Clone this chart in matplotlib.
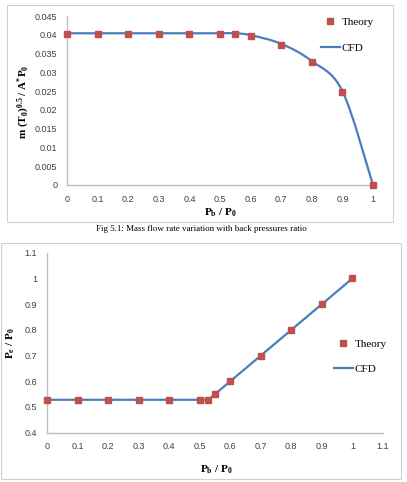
import matplotlib
matplotlib.use('Agg')
import matplotlib.pyplot as plt
import numpy as np
from matplotlib.path import Path
from matplotlib.patches import PathPatch, Rectangle
from matplotlib.lines import Line2D

plt.rcParams['mathtext.fontset'] = 'custom'
plt.rcParams['mathtext.rm'] = 'Liberation Serif:bold'
plt.rcParams['mathtext.it'] = 'Liberation Serif:bold'
plt.rcParams['mathtext.bf'] = 'Liberation Serif:bold'

# --- data, top chart (mass flow) ---
pb_theory1 = [0, 0.1, 0.2, 0.3, 0.4, 0.5, 0.55, 0.6, 0.7, 0.8, 0.9, 1.0]
mf_theory = [0.0402, 0.0402, 0.0402, 0.0402, 0.0402, 0.0402, 0.0401, 0.0397, 0.0373, 0.0328, 0.0247, 0.0]
pb_cfd1 = [0, 0.1, 0.2, 0.3, 0.4, 0.5, 0.55, 0.6, 0.7, 0.8, 0.9, 1.0]
mf_cfd = [0.0404, 0.0404, 0.0404, 0.0404, 0.0404, 0.0404, 0.0404, 0.0399, 0.0376, 0.0330, 0.0250, 0.0]

# --- data, bottom chart (exit pressure) ---
pb_theory2 = [0, 0.1, 0.2, 0.3, 0.4, 0.5, 0.528, 0.55, 0.6, 0.7, 0.8, 0.9, 1.0]
pe_theory = [0.528, 0.528, 0.528, 0.528, 0.528, 0.528, 0.528, 0.55, 0.6, 0.7, 0.8, 0.9, 1.0]
pb_cfd2 = [0, 0.1, 0.2, 0.3, 0.4, 0.5, 0.528, 0.55, 0.6, 0.7, 0.8, 0.9, 1.0]
pe_cfd = [0.528, 0.528, 0.528, 0.528, 0.528, 0.528, 0.528, 0.55, 0.6, 0.7, 0.8, 0.9, 1.0]

xt1 = [0, 0.1, 0.2, 0.3, 0.4, 0.5, 0.6, 0.7, 0.8, 0.9, 1]
xt1_lab = ['0', '0.1', '0.2', '0.3', '0.4', '0.5', '0.6', '0.7', '0.8', '0.9', '1']
yt1 = [0, 0.005, 0.01, 0.015, 0.02, 0.025, 0.03, 0.035, 0.04, 0.045]
yt1_lab = ['0', '0.005', '0.01', '0.015', '0.02', '0.025', '0.03', '0.035', '0.04', '0.045']
xt2 = [0, 0.1, 0.2, 0.3, 0.4, 0.5, 0.6, 0.7, 0.8, 0.9, 1, 1.1]
xt2_lab = ['0', '0.1', '0.2', '0.3', '0.4', '0.5', '0.6', '0.7', '0.8', '0.9', '1', '1.1']
yt2 = [0.4, 0.5, 0.6, 0.7, 0.8, 0.9, 1, 1.1]
yt2_lab = ['0.4', '0.5', '0.6', '0.7', '0.8', '0.9', '1', '1.1']

blue = '#4a7ebb'
red = '#c0504d'
grey = '#bfbfbf'
W, H = 407, 482


def smooth_path(x, y):
    # excel-like smoothed line: catmull-rom segments as cubic beziers
    x = np.asarray(x, float)
    y = np.asarray(y, float)
    verts = [(x[0], y[0])]
    codes = [Path.MOVETO]
    n = len(x)
    for i in range(n - 1):
        i0 = max(i - 1, 0)
        i3 = min(i + 2, n - 1)
        c1 = (x[i] + (x[i + 1] - x[i0]) / 6, y[i] + (y[i + 1] - y[i0]) / 6)
        c2 = (x[i + 1] - (x[i3] - x[i]) / 6, y[i + 1] - (y[i3] - y[i]) / 6)
        verts += [c1, c2, (x[i + 1], y[i + 1])]
        codes += [Path.CURVE4] * 3
    return Path(verts, codes)


def style_axes(ax):
    for s in ['top', 'right']:
        ax.spines[s].set_visible(False)
    for s in ['left', 'bottom']:
        ax.spines[s].set_color(grey)
        ax.spines[s].set_linewidth(1.0)
    ax.tick_params(length=0, labelsize=6.5, colors='#404040', pad=7)
    for t in ax.get_xticklabels() + ax.get_yticklabels():
        t.set_fontfamily('Liberation Sans')


def axrect(l, t, r, b):
    return [l / W, 1 - b / H, (r - l) / W, (b - t) / H]


def ftext(x, y, s, **kw):
    fig.text(x / W, 1 - y / H, s, ha='center', va='center', **kw)


serif_bold = dict(fontfamily='Liberation Serif', fontweight='bold', fontsize=8)

fig = plt.figure(figsize=(W / 100, H / 100), dpi=100)

# outer frames
fig.patches.append(Rectangle((7 / W, 1 - 222 / H), 386 / W, 217 / H, transform=fig.transFigure,
                             fill=False, ec='#d0d0d0', lw=0.8))
fig.patches.append(Rectangle((1 / W, 1 - 479 / H), 400 / W, 236 / H, transform=fig.transFigure,
                             fill=False, ec='#d0d0d0', lw=0.8))

# top chart
ax1 = fig.add_axes(axrect(67, 16, 373, 185))
ax1.add_patch(PathPatch(smooth_path(pb_cfd1, mf_cfd), fill=False, ec=blue, lw=1.6, zorder=2))
ax1.plot(pb_theory1, mf_theory, 's', color=red, ms=4.3, zorder=3, clip_on=False)
ax1.set_xlim(0, 1)
ax1.set_ylim(0, 0.045)
ax1.set_xticks(xt1, xt1_lab)
ax1.set_yticks(yt1, yt1_lab)
style_axes(ax1)
ftext(220, 213, r'P$_\mathrm{b}$ / P$_\mathrm{0}$', **serif_bold)
ftext(24, 102, r'm (T$_\mathrm{0}$)$^\mathrm{0.5}$ / A$^\mathrm{*}$P$_\mathrm{0}$',
      rotation=90, **serif_bold)

h1 = [Line2D([], [], ls='none', marker='s', color=red, ms=4.3),
      Line2D([], [], color=blue, lw=1.6)]
fig.legend(h1, ['Theory', 'CFD'], loc='upper left', bbox_to_anchor=(321 / W, 1 - 17 / H),
           frameon=False, prop={'family': 'Liberation Serif', 'size': 8},
           handlelength=1.7, handletextpad=0.15, labelspacing=1.5, borderpad=0, borderaxespad=0)

ftext(201, 229, 'Fig 5.1: Mass flow rate variation with back pressures ratio',
      fontfamily='Liberation Serif', fontsize=6.5)

# bottom chart
ax2 = fig.add_axes(axrect(47, 252.7, 383, 432.7))
ax2.plot(pb_cfd2, pe_cfd, '-', color=blue, lw=1.6, zorder=2)
ax2.plot(pb_theory2, pe_theory, 's', color=red, ms=4.3, zorder=3, clip_on=False)
ax2.set_xlim(0, 1.1)
ax2.set_ylim(0.4, 1.1)
ax2.set_xticks(xt2, xt2_lab)
ax2.set_yticks(yt2, yt2_lab)
style_axes(ax2)
ftext(216, 470, r'P$_\mathrm{b}$ / P$_\mathrm{0}$', **serif_bold)
ftext(11, 343, r'P$_\mathrm{e}$ / P$_\mathrm{0}$', rotation=90, **serif_bold)

h2 = [Line2D([], [], ls='none', marker='s', color=red, ms=4.3),
      Line2D([], [], color=blue, lw=1.6)]
fig.legend(h2, ['Theory', 'CFD'], loc='upper left', bbox_to_anchor=(334 / W, 1 - 339 / H),
           frameon=False, prop={'family': 'Liberation Serif', 'size': 8},
           handlelength=1.7, handletextpad=0.15, labelspacing=1.4, borderpad=0, borderaxespad=0)

fig.savefig('out.png', dpi=100)
